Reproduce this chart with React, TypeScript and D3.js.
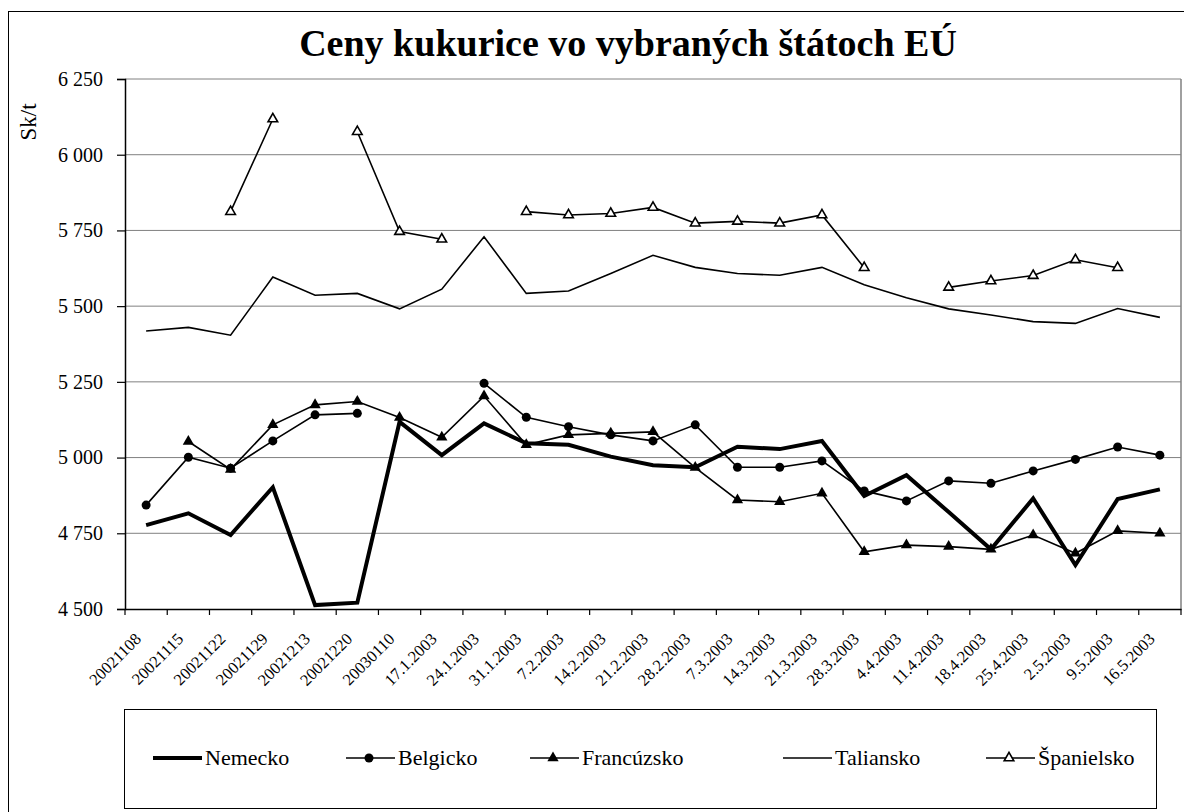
import { useEffect, useRef } from 'react';
import * as d3 from 'd3';

const dates = [
  "20021108", "20021115", "20021122", "20021129", "20021213", "20021220", "20030110",
  "17.1.2003", "24.1.2003", "31.1.2003", "7.2.2003", "14.2.2003", "21.2.2003", "28.2.2003",
  "7.3.2003", "14.3.2003", "21.3.2003", "28.3.2003", "4.4.2003", "11.4.2003", "18.4.2003",
  "25.4.2003", "2.5.2003", "9.5.2003", "16.5.2003",
];

const nemecko = [4777, 4816, 4744, 4902, 4513, 4521, 5118, 5008, 5113, 5047, 5042, 5003, 4975, 4968, 5036, 5028, 5055, 4873, 4942, 4820, 4697, 4865, 4645, 4863, 4895];
const belgicko = [4843, 5001, 4965, 5055, 5141, 5146, null, null, 5245, 5133, 5102, 5075, 5055, 5108, 4968, 4968, 4989, 4890, 4857, 4923, 4915, 4956, 4994, 5035, 5008];
const francuzsko = [null, 5053, 4961, 5108, 5174, 5185, 5132, 5067, 5203, 5042, 5075, 5080, 5085, 4967, 4860, 4854, 4882, 4689, 4711, 4706, 4697, 4744, 4684, 4758, 4750];
const taliansko = [5418, 5430, 5404, 5596, 5536, 5542, 5491, 5556, 5729, 5542, 5550, 5608, 5668, 5628, 5608, 5602, 5628, 5571, 5528, 5491, 5471, 5449, 5443, 5492, 5463];
const spanielsko = [null, null, 5812, 6118, null, 6076, 5746, 5721, null, 5812, 5801, 5806, 5826, 5774, 5780, 5774, 5801, 5627, null, 5562, 5583, 5601, 5653, 5627, null];

const seriesNames = ["Nemecko", "Belgicko", "Francúzsko", "Taliansko", "Španielsko"];
const yTicks = [4500, 4750, 5000, 5250, 5500, 5750, 6000, 6250];

const FONT = "'Liberation Serif', 'Times New Roman', serif";

const App = () => {
  const ref = useRef<SVGSVGElement>(null);

  useEffect(() => {
    const W = 1184, H = 812;
    const plot = { left: 125, right: 1181, top: 79, bottom: 609 };

    const svg = d3.select(ref.current);
    svg.selectAll("*").remove();

    svg.append("rect").attr("width", W).attr("height", H).attr("fill", "#fff");
    // outer chart frame
    svg.append("rect")
      .attr("x", 8.5).attr("y", 11.5).attr("width", 1200).attr("height", 830)
      .attr("fill", "none").attr("stroke", "#000").attr("stroke-width", 1);

    const x = d3.scaleBand().domain(dates).range([plot.left, plot.right]);
    const cx = (d: string) => (x(d) as number) + x.bandwidth() / 2;
    const y = d3.scaleLinear().domain([4500, 6250]).range([plot.bottom, plot.top]);

    // gridlines
    svg.append("g").selectAll("line")
      .data(yTicks.filter(t => t > 4500))
      .enter().append("line")
      .attr("x1", plot.left).attr("x2", plot.right)
      .attr("y1", d => y(d)).attr("y2", d => y(d))
      .attr("stroke", "#808080").attr("stroke-width", 1);

    // right border of plot area
    svg.append("line")
      .attr("x1", plot.right).attr("x2", plot.right)
      .attr("y1", plot.top).attr("y2", plot.bottom)
      .attr("stroke", "#808080").attr("stroke-width", 1.5);

    // axes
    const fmt = (v: number) => d3.format(",")(v).replace(",", " ");
    const yAxis = svg.append("g")
      .attr("transform", `translate(${plot.left},0)`)
      .call(d3.axisLeft(y).tickValues(yTicks).tickFormat(d => fmt(d as number)).tickSize(8).tickPadding(14));
    yAxis.attr("font-family", null).attr("font-size", null);
    yAxis.select(".domain").attr("stroke", "#000").attr("stroke-width", 1.5);
    yAxis.selectAll(".tick line").attr("stroke", "#000").attr("stroke-width", 1.2);
    yAxis.selectAll("text").style("font-family", FONT).style("font-size", "20px").attr("fill", "#000");

    const xAxis = svg.append("g")
      .attr("transform", `translate(0,${plot.bottom})`)
      .call(d3.axisBottom(x).tickSize(0).tickFormat(() => ""));
    xAxis.select(".domain").attr("stroke", "#000").attr("stroke-width", 1.5);
    const bounds = d3.range(dates.length + 1).map(i => plot.left + i * x.step());
    xAxis.selectAll(".btick").data(bounds).enter().append("line")
      .attr("x1", d => d).attr("x2", d => d)
      .attr("y1", 0).attr("y2", 6)
      .attr("stroke", "#000").attr("stroke-width", 1.2);

    svg.append("g").selectAll("text")
      .data(dates)
      .enter().append("text")
      .attr("transform", d => `translate(${cx(d) - 4},${plot.bottom + 31}) rotate(-45)`)
      .attr("text-anchor", "end")
      .style("font-family", FONT)
      .style("font-size", "16.5px")
      .text(d => d);

    // y axis title
    svg.append("text")
      .attr("transform", `translate(36,122) rotate(-90)`)
      .attr("text-anchor", "middle")
      .style("font-family", FONT)
      .style("font-size", "23px")
      .text("Sk/t");

    // chart title
    svg.append("text")
      .attr("x", 628).attr("y", 56)
      .attr("text-anchor", "middle")
      .style("font-family", FONT)
      .style("font-weight", "bold")
      .style("font-size", "38px")
      .text("Ceny kukurice vo vybraných štátoch EÚ");

    type Pt = { d: string; v: number | null };
    const line = d3.line<Pt>()
      .defined(p => p.v != null)
      .x(p => cx(p.d))
      .y(p => y(p.v as number));

    const allSeries = [nemecko, belgicko, francuzsko, taliansko, spanielsko];
    const styles = [
      { width: 4, marker: "none" },
      { width: 1.6, marker: "circle" },
      { width: 1.6, marker: "triFilled" },
      { width: 1.6, marker: "none" },
      { width: 1.6, marker: "triOpen" },
    ];

    const drawMarker = (g: any, kind: string, px: number, py: number) => {
      if (kind === "circle") {
        g.append("circle").attr("cx", px).attr("cy", py).attr("r", 4.5).attr("fill", "#000");
      } else if (kind === "triFilled") {
        const s = d3.symbol().type(d3.symbolTriangle).size(55);
        g.append("path").attr("d", s()).attr("transform", `translate(${px},${py})`).attr("fill", "#000");
      } else if (kind === "triOpen") {
        const s = d3.symbol().type(d3.symbolTriangle).size(40);
        g.append("path").attr("d", s()).attr("transform", `translate(${px},${py})`)
          .attr("fill", "#fff").attr("stroke", "#000").attr("stroke-width", 1.6);
      }
    };

    allSeries.forEach((vals, i) => {
      const pts: Pt[] = dates.map((d, j) => ({ d, v: vals[j] }));
      const g = svg.append("g");
      g.append("path")
        .datum(pts)
        .attr("fill", "none")
        .attr("stroke", "#000")
        .attr("stroke-width", styles[i].width)
        .attr("stroke-linejoin", "miter")
        .attr("d", line);
      pts.filter(p => p.v != null).forEach(p => drawMarker(g, styles[i].marker, cx(p.d), y(p.v as number)));
    });

    // legend
    const lg = svg.append("g");
    lg.append("rect")
      .attr("x", 124.5).attr("y", 709.5).attr("width", 1032).attr("height", 99)
      .attr("fill", "#fff").attr("stroke", "#000").attr("stroke-width", 1);
    const legendX = [153, 346, 530, 783, 986];
    const ly = 758;
    seriesNames.forEach((name, i) => {
      const lx = legendX[i];
      lg.append("line")
        .attr("x1", lx).attr("x2", lx + 49)
        .attr("y1", ly).attr("y2", ly)
        .attr("stroke", "#000").attr("stroke-width", styles[i].width);
      drawMarker(lg, styles[i].marker, lx + 23, ly);
      lg.append("text")
        .attr("x", lx + 52).attr("y", ly + 7)
        .style("font-family", FONT)
        .style("font-size", "22px")
        .text(name);
    });
  }, []);

  return (
    <svg ref={ref} width={1184} height={812} style={{ position: 'absolute', left: 0, top: 0 }} />
  );
};

export default App;
